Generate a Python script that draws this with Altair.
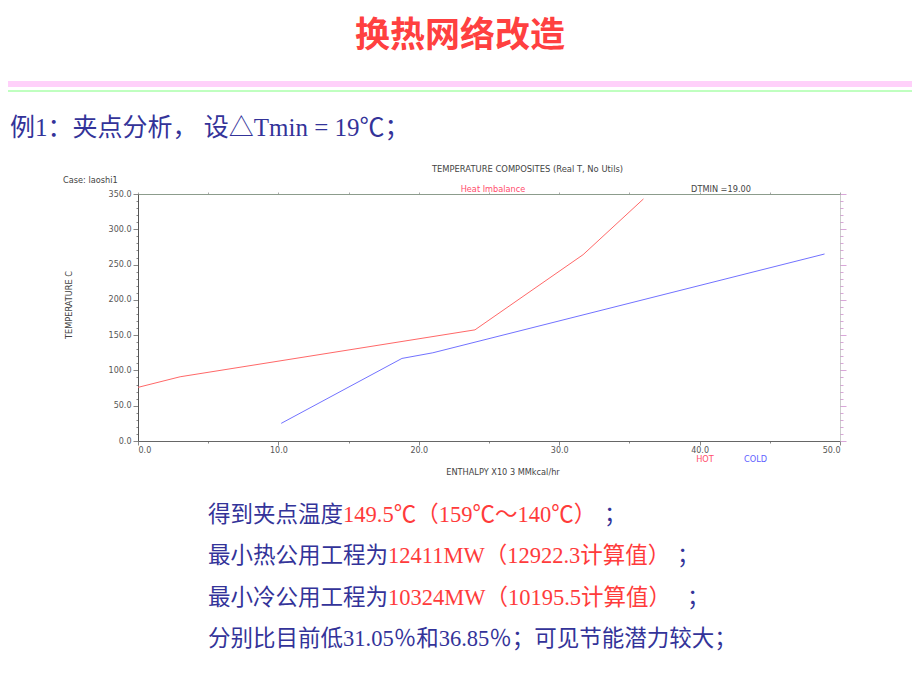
import altair as alt
import pandas as pd

# ---- data ----
hot_enthalpy = [0.0, 3.0, 24.0, 31.7, 36.0]
hot_temp = [76.0, 91.0, 157.5, 264.0, 343.0]
cold_enthalpy = [10.2, 18.8, 21.0, 48.9]
cold_temp = [25.0, 117.0, 125.0, 265.0]
x_ticks = [0, 5, 10, 15, 20, 25, 30, 35, 40, 45, 50]
y_ticks = list(range(0, 351, 10))

title_text = "换热网络改造"
subtitle_text = "例1：夹点分析， 设△Tmin = 19℃；"
chart_title = "TEMPERATURE COMPOSITES (Real T, No Utils)"
case_text = "Case: laoshi1"
imbalance_text = "Heat Imbalance"
dtmin_text = "DTMIN =19.00"
y_title = "TEMPERATURE C"
x_title = "ENTHALPY X10 3 MMkcal/hr"

line1 = ["得到夹点温度", "149.5℃（159℃～140℃）", "；"]
line2 = ["最小热公用工程为", "12411MW（12922.3计算值）", "；"]
line3 = ["最小冷公用工程为", "10324MW（10195.5计算值）", "；"]
line4 = "分别比目前低31.05％和36.85％；可见节能潜力较大；"

HOT_C = "#ff6868"
COLD_C = "#7272ff"
NAVY = "#333399"
RED = "#ff3b3b"
SMALL_FONT = "DejaVu Sans"
TXT_FONT = "Liberation Serif, Noto Sans CJK SC"

df = pd.DataFrame({
    "enthalpy": hot_enthalpy + cold_enthalpy,
    "temp": hot_temp + cold_temp,
    "stream": ["HOT"] * len(hot_enthalpy) + ["COLD"] * len(cold_enthalpy),
    "order": list(range(len(hot_enthalpy))) + list(range(len(cold_enthalpy))),
})

xs = alt.Scale(domain=[0, 50], nice=False, zero=False)
ys = alt.Scale(domain=[0, 350], nice=False)

lines = alt.Chart(df).mark_line(strokeWidth=1).encode(
    x=alt.X("enthalpy:Q", scale=xs, axis=alt.Axis(
        orient="bottom", values=x_ticks, title=None, grid=False,
        labelExpr="datum.value % 10 === 0 ? format(datum.value, '.1f') : ''",
        tickSize={"condition": {"test": "datum.value % 10 === 0", "value": 4}, "value": 2},
        labelPadding=1, labelFont=SMALL_FONT, labelFontSize=8, labelColor="#555",
        domainColor="#666", tickColor="#888")),
    y=alt.Y("temp:Q", scale=ys, axis=alt.Axis(
        orient="left", values=y_ticks, title=None, grid=False,
        labelExpr="datum.value % 50 === 0 ? format(datum.value, '.1f') : ''",
        tickSize={"condition": {"test": "datum.value % 50 === 0", "value": 5}, "value": 2},
        labelPadding=2, labelFont=SMALL_FONT, labelFontSize=8, labelColor="#555",
        domainColor="#555", tickColor="#888")),
    color=alt.Color("stream:N", scale=alt.Scale(domain=["HOT", "COLD"], range=[HOT_C, COLD_C]), legend=None),
    detail="stream:N",
    order="order:Q",
)

frame = alt.Chart(df).mark_line(opacity=0).encode(
    x=alt.X("enthalpy:Q", scale=xs, axis=alt.Axis(
        orient="top", values=x_ticks, labels=False, title=None, grid=False,
        tickSize=2, domainColor="#8c9c8c", tickColor="#aaa")),
    y=alt.Y("temp:Q", scale=ys, axis=alt.Axis(
        orient="right", values=y_ticks, labels=False, title=None, grid=False,
        tickSize={"condition": {"test": "datum.value % 50 === 0", "value": 6}, "value": 3},
        domainColor="#999", domainDash=[1, 1], tickColor="#d9a6d9")),
    detail="stream:N",
)


def txt(s, x, y, size, color, font=SMALL_FONT, weight="normal", align="left", angle=0):
    return alt.Chart(alt.Data(values=[{"t": s}])).mark_text(
        align=align, baseline="middle", fontSize=size, color=color, font=font,
        fontWeight=weight, angle=angle,
    ).encode(text="t:N", x=alt.value(x), y=alt.value(y))


def rule(x1, x2, y, color, w):
    return alt.Chart(alt.Data(values=[{}])).mark_rule(color=color, strokeWidth=w).encode(
        x=alt.value(x1), x2=alt.value(x2), y=alt.value(y))


layers = [
    rule(-130, 774, -110, "#ffd0fa", 6),
    rule(-130, 774, -103, "#80ff80", 1),
    lines,
    frame,
    txt(title_text, 322, -158, 35, "#ff4040", font="Noto Sans CJK SC", weight="bold", align="center"),
    txt(subtitle_text, -128, -66, 25, NAVY, font=TXT_FONT),
    txt(chart_title, 389.5, -25, 8.4, "#444", align="center"),
    txt(case_text, -75, -13, 8.2, "#444"),
    txt(imbalance_text, 355, -4, 8.2, "#ff4d6d", align="center"),
    txt(dtmin_text, 583, -4, 8.2, "#444", align="center"),
    txt(y_title, -68, 111, 8.2, "#444", align="center", angle=270),
    txt(x_title, 365, 279, 8.2, "#444", align="center"),
    txt("HOT", 567, 266, 8.2, "#ff4d6d", align="center"),
    txt("COLD", 617.5, 266, 8.2, "#6060ff", align="center"),
    # bottom text lines
    txt(line1[0], 70, 321, 22.5, NAVY, font=TXT_FONT),
    txt(line1[1], 205, 321, 22.5, RED, font=TXT_FONT),
    txt(line1[2], 466, 321, 22.5, NAVY, font=TXT_FONT),
    txt(line2[0], 70, 362, 22.5, NAVY, font=TXT_FONT),
    txt(line2[1], 250, 362, 22.5, RED, font=TXT_FONT),
    txt(line2[2], 539, 362, 22.5, NAVY, font=TXT_FONT),
    txt(line3[0], 70, 404, 22.5, NAVY, font=TXT_FONT),
    txt(line3[1], 250, 404, 22.5, RED, font=TXT_FONT),
    txt(line3[2], 549, 404, 22.5, NAVY, font=TXT_FONT),
    txt(line4, 70, 445, 22.5, NAVY, font=TXT_FONT),
]

chart = alt.layer(*layers).resolve_axis(x="independent", y="independent").properties(
    width=702, height=247,
    padding={"left": 130, "top": 186, "right": 72, "bottom": 241},
    autosize=alt.AutoSizeParams(type="none"),
    background="white",
).configure_view(stroke=None)

chart.save("out.html", embed_options={"renderer": "svg", "actions": False})
